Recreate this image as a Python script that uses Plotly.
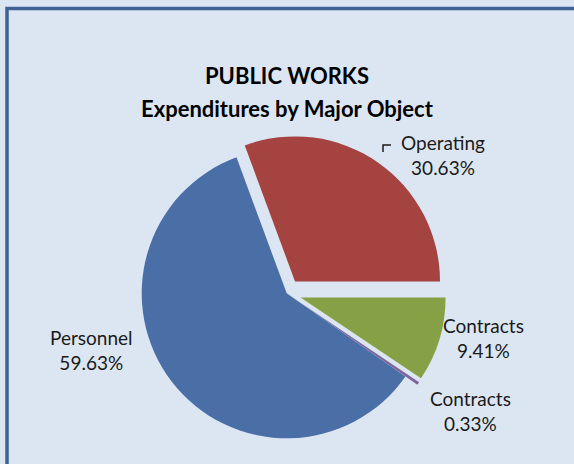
import plotly.graph_objects as go

# Expenditure shares by major object (percent), listed clockwise from 3 o'clock
slice_keys = ["contracts_main", "contracts_small", "personnel", "operating"]
names = ["Contracts", "Contracts", "Personnel", "Operating"]
values = [9.41, 0.33, 59.63, 30.63]
colors = ["#86a046", "#7d649c", "#4a6ea6", "#a4433f"]
pulls = [0.1, 0.1, 0.0, 0.1]

title_lines = ["PUBLIC WORKS", "Expenditures by Major Object"]

# Label anchor points in paper coordinates (x, y)
label_pos = [(0.843, 0.2705), (0.819, 0.1153), (0.160, 0.245), (0.772, 0.665)]
title_y = [0.838, 0.767]

FONT = "Lato, 'Open Sans', sans-serif"

fig = go.Figure(
    go.Pie(
        labels=slice_keys,
        values=values,
        customdata=names,
        marker=dict(colors=colors, line=dict(width=0)),
        pull=pulls,
        sort=False,
        direction="clockwise",
        rotation=90,
        textinfo="none",
        hovertemplate="%{customdata}: %{value:.2f}%<extra></extra>",
        showlegend=False,
        domain=dict(x=[0.2216, 0.7774], y=[0.0241, 0.7116]),
    )
)

annotations = []
for line, ty in zip(title_lines, title_y):
    annotations.append(
        dict(
            x=0.5, y=ty, xref="paper", yref="paper",
            text=f"<b>{line}</b>",
            showarrow=False, align="center",
            font=dict(family=FONT, size=22, color="#000000"),
            xanchor="center", yanchor="middle",
        )
    )
for (lx, ly), lab, val in zip(label_pos, names, values):
    annotations.append(
        dict(
            x=lx, y=ly, xref="paper", yref="paper",
            text=f"{lab}<br>{val:.2f}%",
            showarrow=False, align="center",
            font=dict(family=FONT, size=19, color="#1a1a1a"),
            xanchor="center", yanchor="middle",
        )
    )

shapes = [
    # outer frame (extends past the right and bottom edges)
    dict(type="rect", xref="paper", yref="paper",
         x0=7 / 574, x1=1.03, y0=-0.03, y1=1 - 8.5 / 464,
         line=dict(color="#3f6294", width=3.5), fillcolor="rgba(0,0,0,0)"),
    # leader line for the Operating label
    dict(type="path", xref="paper", yref="paper",
         path=f"M {383/574} {1-152/464} L {383/574} {1-145/464} L {391/574} {1-145/464}",
         line=dict(color="#1a1a1a", width=1.5)),
]

fig.update_layout(
    width=574, height=464,
    margin=dict(l=0, r=0, t=0, b=0),
    paper_bgcolor="#dce6f2",
    plot_bgcolor="#dce6f2",
    annotations=annotations,
    shapes=shapes,
)

fig.write_html("out.html")
